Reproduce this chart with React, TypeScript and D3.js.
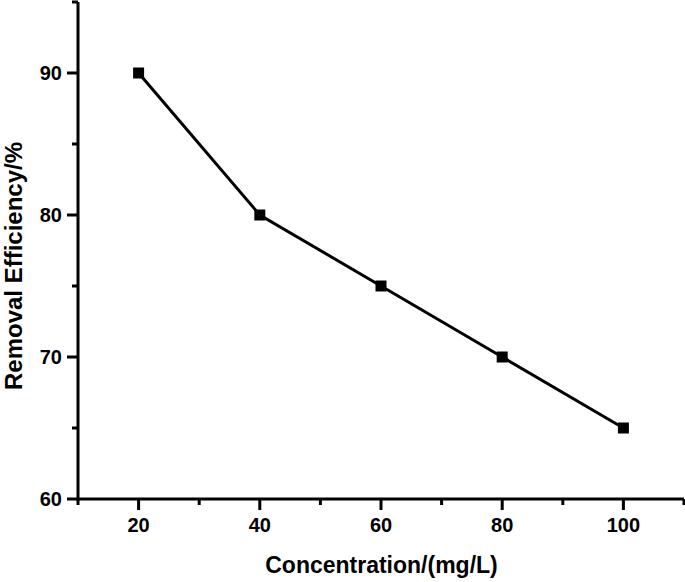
import React from "react";
import * as d3 from "d3";

const concentrations = [20, 40, 60, 80, 100];
const efficiency = [90, 80, 75, 70, 65];
const xMajorTicks = [20, 40, 60, 80, 100];
const xMinorTicks = [10, 30, 50, 70, 90, 110];
const yMajorTicks = [60, 70, 80, 90];
const yMinorTicks = [65, 75, 85, 95];
const xTitle = "Concentration/(mg/L)";
const yTitle = "Removal Efficiency/%";

const W = 685;
const H = 582;
const left = 78;
const right = 684;
const top = 2;
const bottom = 499;

export default function App() {
  const x = d3.scaleLinear().domain([10, 110]).range([left, right]);
  const y = d3.scaleLinear().domain([60, 95]).range([bottom, top]);
  const pts = concentrations.map((c, i) => [x(c), y(efficiency[i])] as [number, number]);
  const line = d3.line()(pts) || "";
  const font = "'Liberation Sans', Arial, sans-serif";
  return (
    <svg
      width={W}
      height={H}
      style={{ position: "absolute", left: 0, top: 0, background: "#fff" }}
    >
      <g stroke="#000" strokeWidth={3} fill="none">
        <line x1={left} x2={left} y1={top} y2={bottom + 1.5} />
        <line x1={left - 1.5} x2={right} y1={bottom} y2={bottom} />
        {yMajorTicks.map((t) => (
          <line key={"ym" + t} x1={left - 11} x2={left} y1={y(t)} y2={y(t)} />
        ))}
        {yMinorTicks.map((t) => (
          <line key={"yn" + t} x1={left - 6} x2={left} y1={y(t)} y2={y(t)} />
        ))}
        {xMajorTicks.map((t) => (
          <line key={"xm" + t} x1={x(t)} x2={x(t)} y1={bottom} y2={bottom + 11} />
        ))}
        {xMinorTicks.map((t) => (
          <line key={"xn" + t} x1={x(t)} x2={x(t)} y1={bottom} y2={bottom + 6} />
        ))}
      </g>
      <path d={line} fill="none" stroke="#000" strokeWidth={3} strokeLinejoin="miter" />
      {pts.map(([px, py], i) => (
        <rect key={i} x={px - 5.5} y={py - 5.5} width={11} height={11} fill="#000" />
      ))}
      <g fontFamily={font} fontWeight="bold" fontSize={20} fill="#000">
        {yMajorTicks.map((t) => (
          <text key={"yl" + t} x={left - 16} y={y(t)} dy="0.36em" textAnchor="end">
            {t}
          </text>
        ))}
        {xMajorTicks.map((t) => (
          <text key={"xl" + t} x={x(t)} y={532} textAnchor="middle">
            {t}
          </text>
        ))}
      </g>
      <text
        x={381.5}
        y={573}
        textAnchor="middle"
        fontFamily={font}
        fontWeight="bold"
        fontSize={23}
      >
        {xTitle}
      </text>
      <text
        transform={`translate(22,266) rotate(-90)`}
        textAnchor="middle"
        fontFamily={font}
        fontWeight="bold"
        fontSize={24}
      >
        {yTitle}
      </text>
    </svg>
  );
}
